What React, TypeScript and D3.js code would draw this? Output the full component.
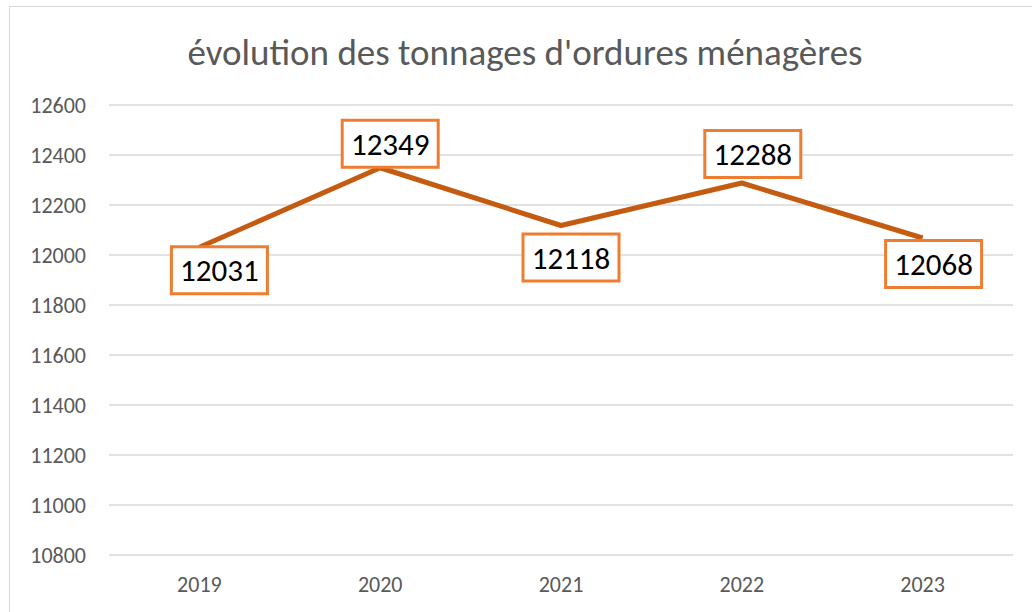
import React, { useEffect, useRef } from 'react';
import * as d3 from 'd3';

const years = ['2019', '2020', '2021', '2022', '2023'];
const tonnages = [12031, 12349, 12118, 12288, 12068];
const yTicks = [10800, 11000, 11200, 11400, 11600, 11800, 12000, 12200, 12400, 12600];
// where each value label box sits relative to its point
const labelOffsets = [
  [20, 23],
  [10, -24],
  [10, 32],
  [11, -29],
  [11, 26],
];

function App() {
  const svgRef = useRef<SVGSVGElement>(null);

  useEffect(() => {
    const svg = d3.select(svgRef.current);
    svg.selectAll('*').remove();

    const width = 1032;
    const height = 612;
    const margin = { top: 105, right: 19, bottom: 57, left: 109 };
    const innerWidth = width - margin.left - margin.right;
    const innerHeight = height - margin.top - margin.bottom;
    const font = 'Carlito, Calibri, Lato, sans-serif';

    svg.attr('width', width).attr('height', height);

    svg.append('rect')
      .attr('x', 9.5).attr('y', 6.5)
      .attr('width', width).attr('height', height)
      .attr('fill', 'white')
      .attr('stroke', '#d9d9d9');

    svg.append('text')
      .attr('x', 525).attr('y', 65)
      .attr('text-anchor', 'middle')
      .attr('font-family', font)
      .attr('font-size', 37)
      .attr('fill', '#595959')
      .text("évolution des tonnages d'ordures ménagères");

    const g = svg.append('g').attr('transform', `translate(${margin.left},${margin.top})`);

    const x = d3.scaleBand().domain(years).range([0, innerWidth]);
    const y = d3.scaleLinear().domain([10800, 12600]).range([innerHeight, 0]);

    g.selectAll('.grid')
      .data(yTicks)
      .enter()
      .append('line')
      .attr('x1', 0).attr('x2', innerWidth)
      .attr('y1', d => y(d)).attr('y2', d => y(d))
      .attr('stroke', '#d9d9d9')
      .attr('stroke-width', 1.5);

    g.selectAll('.ytick')
      .data(yTicks)
      .enter()
      .append('text')
      .attr('x', -23)
      .attr('y', d => y(d))
      .attr('dy', '0.35em')
      .attr('text-anchor', 'end')
      .attr('font-family', font)
      .attr('font-size', 22)
      .attr('fill', '#595959')
      .text(d => d);

    g.selectAll('.xtick')
      .data(years)
      .enter()
      .append('text')
      .attr('x', d => x(d)! + x.bandwidth() / 2)
      .attr('y', innerHeight + 29)
      .attr('dy', '0.35em')
      .attr('text-anchor', 'middle')
      .attr('font-family', font)
      .attr('font-size', 22)
      .attr('fill', '#595959')
      .text(d => d);

    const line = d3.line<number>()
      .x((d, i) => x(years[i])! + x.bandwidth() / 2)
      .y(d => y(d));

    g.append('path')
      .datum(tonnages)
      .attr('d', line)
      .attr('fill', 'none')
      .attr('stroke', '#c55a11')
      .attr('stroke-width', 5)
      .attr('stroke-linejoin', 'round');

    const labels = g.selectAll('.lbl')
      .data(tonnages)
      .enter()
      .append('g')
      .attr('transform', (d, i) => {
        const cx = x(years[i])! + x.bandwidth() / 2 + labelOffsets[i][0];
        const cy = y(d) + labelOffsets[i][1];
        return `translate(${cx},${cy})`;
      });

    labels.append('rect')
      .attr('x', -48).attr('y', -23.5)
      .attr('width', 96).attr('height', 47)
      .attr('fill', 'white')
      .attr('stroke', '#ed7d31')
      .attr('stroke-width', 3);

    labels.append('text')
      .attr('text-anchor', 'middle')
      .attr('dy', '0.36em')
      .attr('font-family', font)
      .attr('font-size', 31)
      .attr('fill', '#000')
      .text(d => d);
  }, []);

  return (
    <div style={{ position: 'fixed', left: 0, top: 0, background: 'white' }}>
      <svg ref={svgRef} style={{ display: 'block' }}></svg>
    </div>
  );
}

export default App;
